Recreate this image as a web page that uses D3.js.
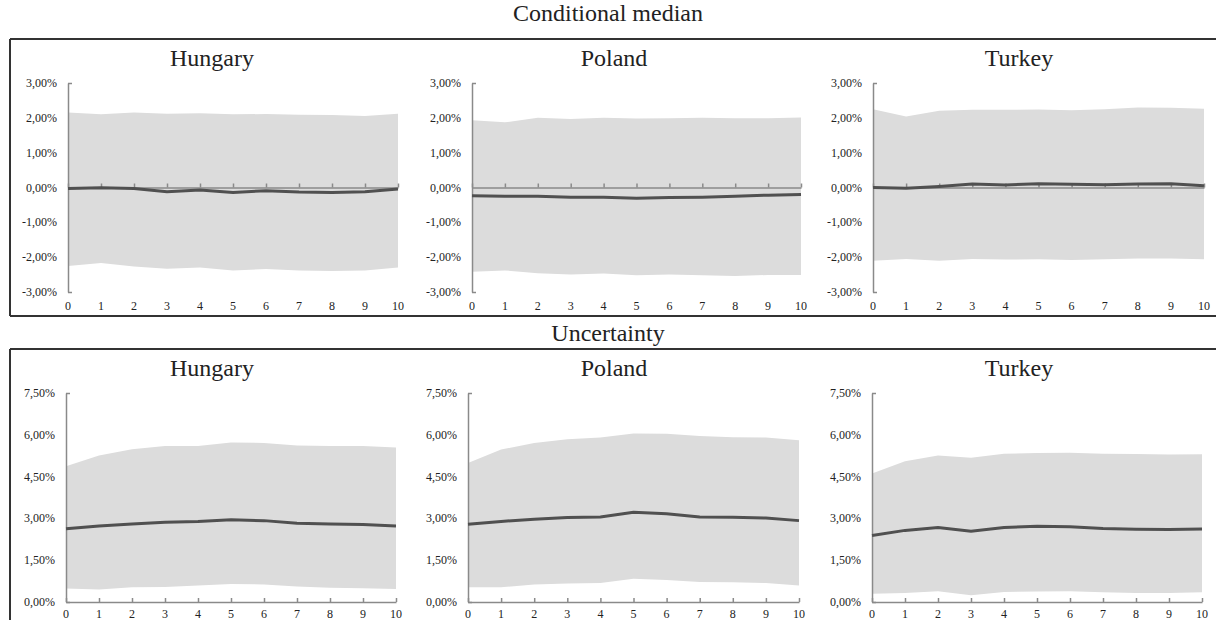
<!DOCTYPE html>
<html>
<head>
<meta charset="utf-8">
<script src="https://cdn.jsdelivr.net/npm/d3@7"></script>
<style>
  body { margin: 0; background: #fff; }
  svg { display: block; }
  text { font-family: "Liberation Serif", "DejaVu Serif", serif; }
</style>
</head>
<body>
<svg id="chart" width="1216" height="620"></svg>
<script>
// horizons
const horizons = [0, 1, 2, 3, 4, 5, 6, 7, 8, 9, 10];
const countries = ["Hungary", "Poland", "Turkey"];

// conditional median (in %)
const cmHungaryUpper  = [2.15, 2.10, 2.15, 2.12, 2.13, 2.10, 2.11, 2.09, 2.08, 2.05, 2.12];
const cmHungaryMedian = [-0.03, -0.01, -0.03, -0.12, -0.07, -0.14, -0.09, -0.13, -0.14, -0.12, -0.04];
const cmHungaryLower  = [-2.25, -2.17, -2.27, -2.33, -2.30, -2.38, -2.34, -2.38, -2.40, -2.38, -2.30];

const cmPolandUpper  = [1.93, 1.87, 2.00, 1.97, 2.00, 1.98, 1.99, 2.00, 1.99, 1.99, 2.01];
const cmPolandMedian = [-0.24, -0.25, -0.25, -0.28, -0.28, -0.31, -0.29, -0.28, -0.25, -0.22, -0.20];
const cmPolandLower  = [-2.42, -2.38, -2.46, -2.50, -2.47, -2.52, -2.50, -2.52, -2.54, -2.51, -2.51];

const cmTurkeyUpper  = [2.25, 2.04, 2.20, 2.23, 2.23, 2.24, 2.22, 2.25, 2.30, 2.29, 2.26];
const cmTurkeyMedian = [0.00, -0.02, 0.03, 0.10, 0.07, 0.11, 0.09, 0.08, 0.10, 0.11, 0.05];
const cmTurkeyLower  = [-2.10, -2.05, -2.10, -2.05, -2.07, -2.06, -2.08, -2.06, -2.04, -2.04, -2.06];

// uncertainty (in %)
const unHungaryUpper  = [4.87, 5.26, 5.48, 5.60, 5.60, 5.72, 5.71, 5.62, 5.60, 5.60, 5.54];
const unHungaryMedian = [2.63, 2.73, 2.80, 2.86, 2.89, 2.95, 2.92, 2.83, 2.80, 2.78, 2.73];
const unHungaryLower  = [0.48, 0.45, 0.53, 0.54, 0.59, 0.65, 0.63, 0.56, 0.51, 0.49, 0.47];

const unPolandUpper  = [4.99, 5.47, 5.71, 5.84, 5.90, 6.05, 6.04, 5.96, 5.91, 5.90, 5.80];
const unPolandMedian = [2.79, 2.89, 2.97, 3.03, 3.05, 3.22, 3.17, 3.05, 3.04, 3.01, 2.92];
const unPolandLower  = [0.53, 0.53, 0.63, 0.66, 0.68, 0.83, 0.79, 0.72, 0.71, 0.68, 0.59];

const unTurkeyUpper  = [4.61, 5.05, 5.26, 5.18, 5.32, 5.35, 5.36, 5.32, 5.31, 5.29, 5.30];
const unTurkeyMedian = [2.39, 2.57, 2.67, 2.54, 2.67, 2.72, 2.70, 2.64, 2.61, 2.60, 2.62];
const unTurkeyLower  = [0.30, 0.32, 0.39, 0.24, 0.36, 0.38, 0.39, 0.35, 0.32, 0.32, 0.35];

// tick labels
const cmTicks = [-3, -2, -1, 0, 1, 2, 3];
const unTicks = [0, 1.5, 3, 4.5, 6, 7.5];

const sections = [
  {
    title: "Conditional median", ticks: cmTicks, domain: [-3, 3],
    series: [
      [cmHungaryLower, cmHungaryMedian, cmHungaryUpper],
      [cmPolandLower, cmPolandMedian, cmPolandUpper],
      [cmTurkeyLower, cmTurkeyMedian, cmTurkeyUpper]
    ],
    // layout
    titleY: 21, topLine: 39, bottomLine: 316, panelTitleY: 66,
    plotTop: 83, plotBottom: 292, xLabelY: 310,
    xr: [[68, 398], [472, 801], [873, 1204]]
  },
  {
    title: "Uncertainty", ticks: unTicks, domain: [0, 7.5],
    series: [
      [unHungaryLower, unHungaryMedian, unHungaryUpper],
      [unPolandLower, unPolandMedian, unPolandUpper],
      [unTurkeyLower, unTurkeyMedian, unTurkeyUpper]
    ],
    titleY: 341, topLine: 349, bottomLine: null, panelTitleY: 376,
    plotTop: 393, plotBottom: 602, xLabelY: 618,
    xr: [[66, 396], [468, 799], [872, 1202]]
  }
];

const titleCenters = [212, 614, 1019];
const loc = d3.formatLocale({ decimal: ",", thousands: ".", grouping: [3], currency: ["", ""], minus: "-" });
const fmt = loc.format(".2f");

const svg = d3.select("#chart");
const axisColor = "#8a8a8a";
const serif = "'Liberation Serif', 'DejaVu Serif', serif";

sections.forEach(sec => {
  // section title and frame lines
  svg.append("text")
    .attr("x", 608).attr("y", sec.titleY)
    .attr("text-anchor", "middle")
    .attr("font-family", serif)
    .attr("font-size", 24).attr("fill", "#222")
    .text(sec.title);

  svg.append("line")
    .attr("x1", 10).attr("x2", 1216).attr("y1", sec.topLine).attr("y2", sec.topLine)
    .attr("stroke", "#333").attr("stroke-width", 2);
  const bottom = sec.bottomLine || 620;
  svg.append("line")
    .attr("x1", 10).attr("x2", 10).attr("y1", sec.topLine).attr("y2", bottom)
    .attr("stroke", "#333").attr("stroke-width", 2);
  if (sec.bottomLine) {
    svg.append("line")
      .attr("x1", 10).attr("x2", 1216).attr("y1", sec.bottomLine).attr("y2", sec.bottomLine)
      .attr("stroke", "#333").attr("stroke-width", 2);
  }

  const y = d3.scaleLinear().domain(sec.domain).range([sec.plotBottom, sec.plotTop]);

  sec.series.forEach((s, i) => {
    const [lower, median, upper] = s;
    const x = d3.scaleLinear().domain([0, 10]).range(sec.xr[i]);
    const g = svg.append("g");

    // panel title
    g.append("text")
      .attr("x", titleCenters[i]).attr("y", sec.panelTitleY)
      .attr("text-anchor", "middle")
      .attr("font-family", serif)
      .attr("font-size", 24).attr("fill", "#222")
      .text(countries[i]);

    // band
    const area = d3.area()
      .x((d, k) => x(horizons[k]))
      .y0((d, k) => y(lower[k]))
      .y1(d => y(d));
    g.append("path")
      .datum(upper)
      .attr("d", area)
      .attr("fill", "#dcdcdc");

    // y axis, end ticks only
    const yAxis = d3.axisRight(y).tickValues(sec.domain).tickSize(4).tickSizeOuter(0).tickFormat("");
    const ya = g.append("g").attr("transform", `translate(${sec.xr[i][0]},0)`).call(yAxis);
    ya.selectAll("path, line").attr("stroke", axisColor).attr("stroke-width", 1.5);

    // y tick labels
    g.selectAll(".ylab")
      .data(sec.ticks)
      .enter().append("text")
      .attr("x", sec.xr[i][0] - 11)
      .attr("y", d => y(d) + 4)
      .attr("text-anchor", "end")
      .attr("font-family", serif)
      .attr("font-size", 12).attr("fill", "#222")
      .text(d => fmt(d) + "%");

    // x axis at zero, ticks pointing up
    const xAxis = d3.axisTop(x).tickValues(horizons).tickSize(4).tickSizeOuter(0).tickFormat("");
    const xa = g.append("g").attr("transform", `translate(0,${y(0)})`).call(xAxis);
    xa.selectAll("path, line").attr("stroke", axisColor).attr("stroke-width", 1.5);

    // x tick labels at bottom
    g.selectAll(".xlab")
      .data(horizons)
      .enter().append("text")
      .attr("x", d => x(d))
      .attr("y", sec.xLabelY)
      .attr("text-anchor", "middle")
      .attr("font-family", serif)
      .attr("font-size", 12).attr("fill", "#222")
      .text(d => d);

    // median line
    const line = d3.line()
      .x((d, k) => x(horizons[k]))
      .y(d => y(d));
    g.append("path")
      .datum(median)
      .attr("d", line)
      .attr("fill", "none")
      .attr("stroke", "#505050")
      .attr("stroke-width", 3);
  });
});
</script>
</body>
</html>
